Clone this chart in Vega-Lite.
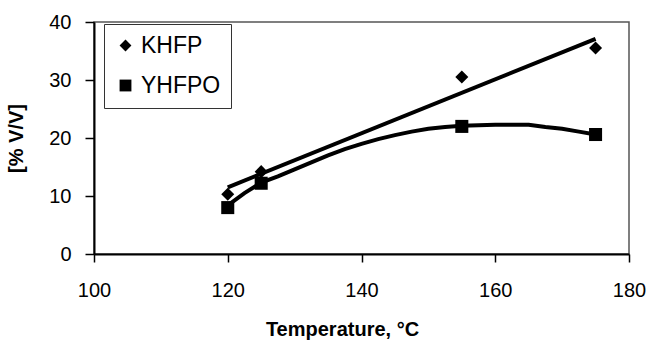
{
  "$schema": "https://vega.github.io/schema/vega-lite/v6.json",
  "width": 535,
  "height": 232,
  "autosize": {"type": "none"},
  "padding": {"left": 94, "top": 22, "right": 18, "bottom": 90},
  "config": {
    "font": "Liberation Sans",
    "view": {"stroke": "#555555", "strokeWidth": 1.5},
    "axis": {"grid": false}
  },
  "data": {
    "values": [
      {"series": "KHFP", "kind": "point", "temp": 120, "value": 10.3},
      {"series": "KHFP", "kind": "point", "temp": 125, "value": 14.2},
      {"series": "KHFP", "kind": "point", "temp": 155, "value": 30.5},
      {"series": "KHFP", "kind": "point", "temp": 175, "value": 35.5},
      {"series": "YHFPO", "kind": "point", "temp": 120, "value": 8.0},
      {"series": "YHFPO", "kind": "point", "temp": 125, "value": 12.2},
      {"series": "YHFPO", "kind": "point", "temp": 155, "value": 22.0},
      {"series": "YHFPO", "kind": "point", "temp": 175, "value": 20.6},
      {"series": "KHFP", "kind": "fit", "temp": 120, "value": 11.5},
      {"series": "KHFP", "kind": "fit", "temp": 175, "value": 37.1},
      {"series": "YHFPO", "kind": "fit", "temp": 120, "value": 8.4},
      {"series": "YHFPO", "kind": "fit", "temp": 122.5, "value": 10.5},
      {"series": "YHFPO", "kind": "fit", "temp": 125, "value": 12.3},
      {"series": "YHFPO", "kind": "fit", "temp": 127.5, "value": 13.4},
      {"series": "YHFPO", "kind": "fit", "temp": 130, "value": 14.6},
      {"series": "YHFPO", "kind": "fit", "temp": 132.5, "value": 15.8},
      {"series": "YHFPO", "kind": "fit", "temp": 135, "value": 17.0},
      {"series": "YHFPO", "kind": "fit", "temp": 137.5, "value": 18.1},
      {"series": "YHFPO", "kind": "fit", "temp": 140, "value": 19.0},
      {"series": "YHFPO", "kind": "fit", "temp": 142.5, "value": 19.8},
      {"series": "YHFPO", "kind": "fit", "temp": 145, "value": 20.5},
      {"series": "YHFPO", "kind": "fit", "temp": 147.5, "value": 21.1},
      {"series": "YHFPO", "kind": "fit", "temp": 150, "value": 21.6},
      {"series": "YHFPO", "kind": "fit", "temp": 152.5, "value": 21.9},
      {"series": "YHFPO", "kind": "fit", "temp": 155, "value": 22.1},
      {"series": "YHFPO", "kind": "fit", "temp": 160, "value": 22.3},
      {"series": "YHFPO", "kind": "fit", "temp": 165, "value": 22.3},
      {"series": "YHFPO", "kind": "fit", "temp": 167.5, "value": 21.9},
      {"series": "YHFPO", "kind": "fit", "temp": 170, "value": 21.6},
      {"series": "YHFPO", "kind": "fit", "temp": 172.5, "value": 21.1},
      {"series": "YHFPO", "kind": "fit", "temp": 175, "value": 20.6}
    ]
  },
  "encoding": {
    "x": {
      "field": "temp", "type": "quantitative",
      "scale": {"domain": [100, 180], "nice": false},
      "axis": {
        "values": [100, 120, 140, 160, 180],
        "title": "Temperature, °C",
        "titleFont": "Liberation Sans", "titleFontSize": 20, "titleFontWeight": "bold", "titleColor": "black",
        "titlePadding": 19, "titleX": 248,
        "labelFontSize": 20, "labelColor": "black", "labelPadding": 18, "labelFlush": false,
        "domainColor": "black", "domainWidth": 2, "tickColor": "black", "tickWidth": 1.5, "tickSize": 8
      }
    },
    "y": {
      "field": "value", "type": "quantitative",
      "scale": {"domain": [0, 40], "nice": false},
      "axis": {
        "values": [0, 10, 20, 30, 40],
        "title": "[% V/V]",
        "titleFont": "Liberation Sans", "titleFontSize": 20, "titleFontWeight": "bold", "titleColor": "black",
        "titlePadding": 22,
        "labelFontSize": 20, "labelColor": "black", "labelPadding": 14, "labelFlush": false,
        "domainColor": "black", "domainWidth": 2, "tickColor": "black", "tickWidth": 1.5, "tickSize": 9
      }
    }
  },
  "layer": [
    {
      "transform": [{"filter": "datum.kind == 'fit'"}],
      "mark": {"type": "line", "color": "black", "strokeWidth": 4, "interpolate": "linear"},
      "encoding": {"detail": {"field": "series"}, "order": {"field": "temp"}}
    },
    {
      "transform": [{"filter": "datum.kind == 'point'"}],
      "mark": {"type": "point", "filled": true, "color": "black", "opacity": 1, "size": 170},
      "encoding": {
        "shape": {
          "field": "series", "type": "nominal",
          "scale": {"domain": ["KHFP", "YHFPO"], "range": ["diamond", "square"]},
          "legend": {
            "title": null,
            "orient": "none", "legendX": 10, "legendY": 2,
            "strokeColor": "#333333", "fillColor": "white",
            "padding": 10,
            "labelFontSize": 23, "labelColor": "black", "labelFont": "Liberation Sans",
            "symbolSize": 140, "symbolFillColor": "black", "symbolStrokeColor": "black",
            "rowPadding": 16, "labelOffset": 4, "labelLimit": 200
          }
        }
      }
    }
  ]
}
